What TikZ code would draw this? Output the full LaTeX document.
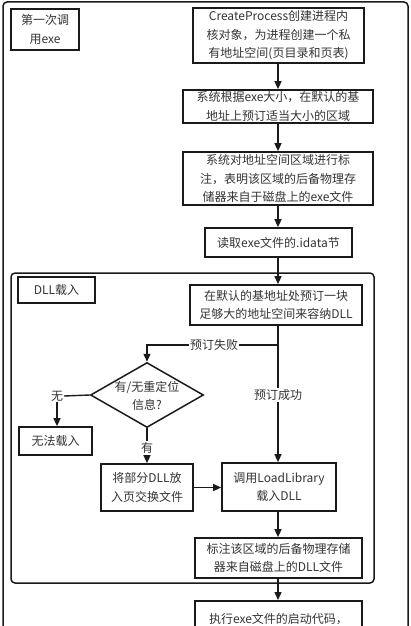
\documentclass[tikz,border=0pt]{standalone}
\usepackage{fontspec}
\setmainfont{Noto Sans CJK SC}
\usetikzlibrary{arrows.meta,shapes.geometric}
\definecolor{txt}{HTML}{333333}
\definecolor{ln}{HTML}{1A1A1A}
\begin{document}
\begin{tikzpicture}[x=1pt,y=-1pt,
  box/.style={draw=ln,line width=1.7pt,align=center,text=txt,inner sep=0pt,
    font=\fontsize{12}{18.5}\selectfont},
  lbl/.style={fill=white,text=txt,inner sep=1pt,font=\fontsize{12}{18.5}\selectfont},
  cont/.style={draw=ln,line width=1.5pt,rounded corners=4pt},
  conn/.style={draw=ln,line width=1.4pt},
  arr/.style={conn,-{Triangle[length=8pt,width=7pt]}}]
\useasboundingbox (0,0) rectangle (411,626);
\clip (0,0) rectangle (411,626);
% containers
\draw[cont] (3,2) rectangle (408,660);
\draw[cont] (11,273) rectangle (374,583);
% nodes
\node[box,minimum width=68pt,minimum height=41pt] (first) at (45,29.5) {第一次调\\用exe};
\node[box,minimum width=171pt,minimum height=55pt] (cp) at (278.5,35.5) {CreateProcess创建进程内\\核对象，为进程创建一个私\\有地址空间(页目录和页表)};
\node[box,minimum width=190pt,minimum height=33pt] (n2) at (278,106.5) {系统根据exe大小，在默认的基\\地址上预订适当大小的区域};
\node[box,minimum width=190pt,minimum height=53pt] (n3) at (278,178.5) {系统对地址空间区域进行标\\注，表明该区域的后备物理存\\储器来自于磁盘上的exe文件};
\node[box,minimum width=147pt,minimum height=29pt] (n4) at (278.5,242.5) {读取exe文件的.idata节};
\node[box,minimum width=77pt,minimum height=26pt] (dll) at (56.5,290) {DLL载入};
\node[box,minimum width=172pt,minimum height=40pt] (n5) at (276,305) {在默认的基地址处预订一块\\足够大的地址空间来容纳DLL};
\node[box,diamond,aspect=1.74,minimum width=113pt,minimum height=65pt,line width=1.5pt] (dia) at (147,395) {};
\node[text=txt,align=center,font=\fontsize{12}{18.5}\selectfont] at (147,396) {有/无重定位\\信息?};
\node[box,minimum width=73pt,minimum height=28pt] (nofail) at (55.5,441) {无法载入};
\node[box,minimum width=92pt,minimum height=47pt] (swap) at (147,487.5) {将部分DLL放\\入页交换文件};
\node[box,minimum width=114pt,minimum height=48pt] (load) at (279,487) {调用LoadLibrary\\载入DLL};
\node[box,minimum width=167pt,minimum height=40pt] (n6) at (278.5,558) {标注该区域的后备物理存储\\器来自磁盘上的DLL文件};
\node[box,minimum width=167pt,minimum height=60pt,anchor=north] (n7) at (278.5,600) {};
\node[text=txt,font=\fontsize{12}{18.5}\selectfont] (n7t) at (278.5,619.5) {执行exe文件的启动代码，};
% connectors
\coordinate (sp) at (278,345);
\coordinate (sl) at (147,345);
\draw[arr] (cp.south -| sp) -- (n2.north -| sp);
\draw[arr] (n2.south -| sp) -- (n3.north -| sp);
\draw[arr] (n3.south -| sp) -- (n4.north -| sp);
\draw[arr] (n4.south -| sp) -- (n5.north -| sp);
\draw[conn] (n5.south -| sp) -- (sp);
\draw[arr] (sp) -- (sl) -- (dia.north);
\node[lbl] (fail) at (214,345) {预订失败};
\draw[arr] (sp) -- (load.north -| sp);
\node[lbl] (ok) at (278,395) {预订成功};
\node[lbl] (wu) at (57,396) {无};
\draw[conn] (dia.west) -- (wu.east);
\draw[arr] (wu.south) -- (nofail.north -| wu);
\draw[arr] (dia.south) -- (swap.north);
\node[lbl] (you) at (147,448) {有};
\draw[arr] (swap.east) -- (load.west |- swap.east);
\draw[arr] (load.south -| sp) -- (n6.north -| sp);
\draw[arr] (n6.south -| sp) -- (n7.north -| sp);
\end{tikzpicture}
\end{document}
